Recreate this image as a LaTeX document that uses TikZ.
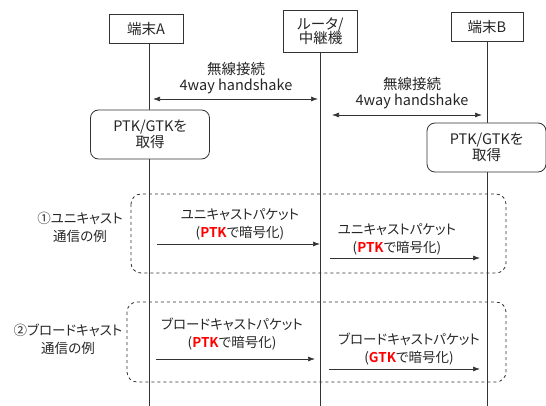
\documentclass[tikz,border=0pt]{standalone}
\usepackage{fontspec}
\setmainfont{Noto Sans CJK JP}[RawFeature={+palt}, BoldFont={Noto Sans CJK JP Bold}]
\usepackage{xcolor}
\usetikzlibrary{positioning,calc,arrows.meta}

\definecolor{txtgray}{HTML}{262626}
\definecolor{linegray}{HTML}{333333}
\newcommand{\keyname}[1]{\textcolor{red}{\textbf{#1}}}

\begin{document}
\begin{tikzpicture}[x=1pt, y=-1pt,
    font=\fontsize{13.5}{18}\selectfont, text=txtgray,
    actor/.style={rectangle, draw=linegray, fill=white, line width=0.7pt, minimum width=74pt, minimum height=29pt, inner sep=2pt, align=center, font=\fontsize{14.5}{18}\selectfont},
    keybox/.style={rectangle, rounded corners=8pt, draw=linegray, fill=white, line width=0.8pt, minimum width=119pt, minimum height=49pt, align=center, font=\fontsize{14.5}{18}\selectfont},
    groupbox/.style={draw=linegray, dashed, rounded corners=10pt, line width=0.8pt},
    lifeline/.style={draw=linegray, line width=0.8pt},
    msg/.style={-{Latex[length=7pt, width=5pt]}, draw=linegray, line width=0.7pt},
    shake/.style={{Latex[length=7pt, width=5pt]}-{Latex[length=7pt, width=5pt]}, draw=linegray, line width=0.7pt},
    lbl/.style={align=center, inner sep=0pt}]
  \useasboundingbox (0,0) rectangle (546,406);
  \coordinate (bottom) at (0,406);

  % devices
  \node[actor] (termA) at (146,29) {端末A};
  \node[actor, minimum height=42pt] (router) at (320.5,31) {ルータ/\\[-4pt]中継機};
  \node[actor, minimum width=72pt] (termB) at (487,26.5) {端末B};

  % lifelines
  \draw[lifeline] (termA.south -| 149.5,0) -- (bottom -| 149.5,0);
  \draw[lifeline] (router.south) -- (router |- bottom);
  \draw[lifeline] (termB.south) -- (termB |- bottom);

  % group frames
  \draw[groupbox] (131,194) rectangle (506,273);
  \draw[groupbox] (127,302) rectangle (506,382);

  % handshakes
  \path (153,99) coordinate (hs1s) (318,99) coordinate (hs1e);
  \path (332,115) coordinate (hs2s) (482,115) coordinate (hs2e);
  \node[lbl, font=\fontsize{14.5}{18}\selectfont] (hs1) at (236,78) {無線接続\\[-2pt]4way handshake};
  \node[lbl, font=\fontsize{14.5}{18}\selectfont] (hs2) at (412,93) {無線接続\\[-2pt]4way handshake};
  \draw[shake] (hs1s) -- (hs1e);
  \draw[shake] (hs2s) -- (hs2e);

  % keys obtained
  \node[keybox] (keyA) at (150,134.5) {PTK/GTKを\\[-2pt]取得};
  \node[keybox] (keyB) at (486.5,147.5) {PTK/GTKを\\[-2pt]取得};

  % example labels
  \node[lbl] (lab1) at (80,227) {①ユニキャスト\\通信の例};
  \node[lbl] (lab2) at (68,339) {②ブロードキャスト\\通信の例};

  % unicast
  \path (157,244) coordinate (u1s) (320,244) coordinate (u1e);
  \path (330,258) coordinate (u2s) (480,258) coordinate (u2e);
  \node[lbl] (uni1) at (240,224.5) {ユニキャストパケット\\(\keyname{PTK}で暗号化)};
  \node[lbl] (uni2) at (397,239.5) {ユニキャストパケット\\(\keyname{PTK}で暗号化)};
  \draw[msg] (u1s) -- (u1e);
  \draw[msg] (u2s) -- (u2e);

  % broadcast
  \path (156,359) coordinate (b1s) (315,359) coordinate (b1e);
  \path (329,369) coordinate (b2s) (480,369) coordinate (b2e);
  \node[lbl] (bc1) at (232,334.5) {ブロードキャストパケット\\(\keyname{PTK}で暗号化)};
  \node[lbl] (bc2) at (409,349.5) {ブロードキャストパケット\\(\keyname{GTK}で暗号化)};
  \draw[msg] (b1s) -- (b1e);
  \draw[msg] (b2s) -- (b2e);
\end{tikzpicture}
\end{document}
